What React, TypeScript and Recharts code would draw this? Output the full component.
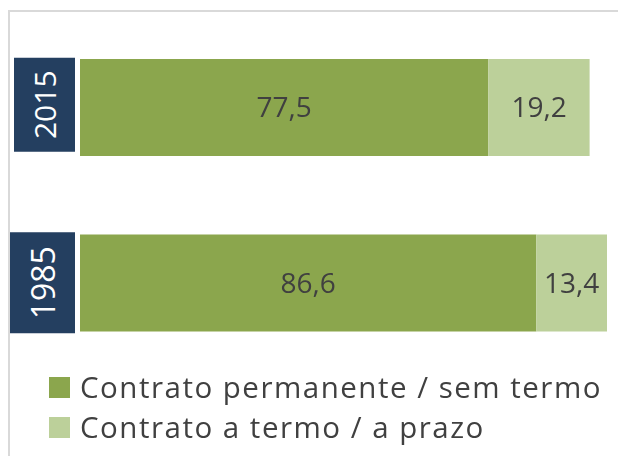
import { BarChart, Bar, XAxis, YAxis, LabelList } from 'recharts';

const years = ['2015', '1985'];
const permanente = [77.5, 86.6];
const aTermo = [19.2, 13.4];
const seriesNames = ['Contrato permanente / sem termo', 'Contrato a termo / a prazo'];
const colors = ['#8BA64D', '#BCD09A'];

const rows = years.map((y, i) => ({ year: y, perm: permanente[i], termo: aTermo[i] }));

const FONT = '"Open Sans", "DejaVu Sans", sans-serif';

// box geometry per tick (Excel autofit makes them slightly different)
const boxes = [
    { left: 4, w: 61, top: -50, h: 94, fs: 30 },
    { left: 0, w: 65, top: -51, h: 101, fs: 32 },
];

function YearTick(props: any) {
    const { y, payload, index } = props;
    const b = boxes[index] || boxes[0];
    const cx = b.left + b.w / 2;
    const cy = y + b.top + b.h / 2;
    return (
        <g>
            <rect x={b.left} y={y + b.top} width={b.w} height={b.h} fill="#243F60" />
            <text
                x={cx}
                y={cy}
                fill="#ffffff"
                fontSize={b.fs}
                fontFamily={FONT}
                textAnchor="middle"
                dominantBaseline="central"
                transform={`rotate(-90 ${cx} ${cy})`}
            >
                {payload.value}
            </text>
        </g>
    );
}

const fmt = (v: any) => String(v).replace('.', ',');

export default function App() {
    return (
        <div
            style={{
                position: 'fixed',
                left: 8,
                top: 10,
                width: 640,
                height: 446,
                boxSizing: 'border-box',
                borderTop: '2px solid #d9d9d9',
                borderLeft: '2px solid #d9d9d9',
                fontFamily: FONT,
            }}
        >
            <BarChart
                width={606}
                height={359}
                data={rows}
                layout="vertical"
                margin={{ top: 8, right: 9, bottom: 0, left: 0 }}
                barSize={97}
                style={{ outline: 'none' }}
            >
                <XAxis type="number" domain={[0, 100]} hide />
                <YAxis
                    type="category"
                    dataKey="year"
                    width={70}
                    axisLine={false}
                    tickLine={false}
                    tick={<YearTick />}
                />
                <Bar dataKey="perm" stackId="a" fill={colors[0]} isAnimationActive={false}>
                    <LabelList dataKey="perm" position="center" formatter={fmt} fill="#404040" fontSize={28} fontFamily={FONT} />
                </Bar>
                <Bar dataKey="termo" stackId="a" fill={colors[1]} isAnimationActive={false}>
                    <LabelList dataKey="termo" position="center" formatter={fmt} fill="#404040" fontSize={28} fontFamily={FONT} />
                </Bar>
            </BarChart>
            <div style={{ position: 'absolute', left: 39, top: 355 }}>
                {seriesNames.map((n, i) => (
                    <div key={n} style={{ display: 'flex', alignItems: 'center', height: 40 }}>
                        <span style={{ width: 21, height: 21, background: colors[i], display: 'inline-block', flex: 'none' }} />
                        <span style={{ marginLeft: 10, fontSize: 29.5, letterSpacing: '1.5px', color: '#404040', lineHeight: '32px', whiteSpace: 'nowrap' }}>{n}</span>
                    </div>
                ))}
            </div>
        </div>
    );
}
